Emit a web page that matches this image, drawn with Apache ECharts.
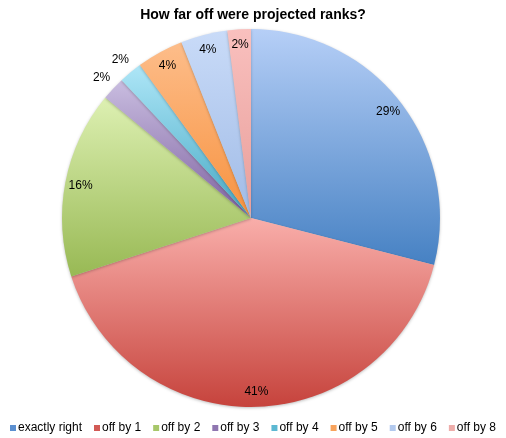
<!DOCTYPE html>
<html><head><meta charset="utf-8">
<script src="https://cdn.jsdelivr.net/npm/echarts@6/dist/echarts.min.js"></script>
<style>html,body{margin:0;padding:0;background:#fff}#c{width:506px;height:438px}</style>
</head><body><div id="c"></div>
<script>
var categories = ['exactly right','off by 1','off by 2','off by 3','off by 4','off by 5','off by 6','off by 8'];
var values = [29, 41, 16, 2, 2, 4, 4, 2];
var outsideLabels = ['off by 3','off by 4'];
var topColors = ['#b6cff7','#f9aeaa','#ddf0b2','#c9bde0','#aee6f7','#fdbd8a','#c9dbf8','#f9c0be'];
var bottomColors = ['#4681c3','#c6433c','#98b954','#7e62a0','#45a8c4','#f7923f','#a0bbe6','#e89e9a'];
var legendColors = ['#5b8fd0','#d25a55','#a7c76a','#8f76b0','#5cb8d2','#f8a35c','#b2c9ee','#eeadaa'];

var chart = echarts.init(document.getElementById('c'));
var font = '"Liberation Sans", Arial, sans-serif';
var mainData = categories.map(function(n,i){
  return {name:n, value:values[i], itemStyle:{color:new echarts.graphic.LinearGradient(0,0,0,1,[{offset:0,color:topColors[i]},{offset:1,color:bottomColors[i]}])}};
});
function fmt(p){return Math.round(p.percent)+'%';}
var inData = categories.map(function(n,i){
  return {name:n, value:values[i], label:{show: outsideLabels.indexOf(n)<0}};
});
var outData = categories.map(function(n,i){
  return {name:n, value:values[i], label:{show: outsideLabels.indexOf(n)>=0}};
});
var overlayBase = {
  type:'pie', center:[251,218], startAngle:90, clockwise:true, silent:true,
  itemStyle:{color:'rgba(0,0,0,0)'}, labelLine:{show:false},
  emphasis:{disabled:true}, avoidLabelOverlap:false, tooltip:{show:false}
};
chart.setOption({
  animation:false,
  title:{text:'How far off were projected ranks?', left:'center', top:3,
    textStyle:{fontFamily:font, fontSize:14, fontWeight:'bold', color:'#000'}},
  legend:{bottom:4, left:'center', padding:0, itemWidth:6, itemHeight:6, itemGap:12, icon:'rect',
    data:categories.map(function(n,i){return {name:n, itemStyle:{color:legendColors[i]}};}),
    textStyle:{fontFamily:font, fontSize:12, color:'#000', padding:[0,0,0,-3]}},
  series:[
    {type:'pie', name:'main', center:[251,218], radius:189, startAngle:90, clockwise:true,
     data:mainData, label:{show:false}, labelLine:{show:false}, emphasis:{disabled:true},
     itemStyle:{shadowBlur:3, shadowColor:'rgba(0,0,0,0.25)', shadowOffsetY:1}},
    Object.assign({}, overlayBase, {radius:[152,189], data:inData,
      label:{position:'inside', formatter:fmt, fontFamily:font, fontSize:12, color:'#000'}}),
    Object.assign({}, overlayBase, {radius:[191,213], data:outData,
      label:{position:'inside', formatter:fmt, fontFamily:font, fontSize:12, color:'#000'}})
  ]
});
</script></body></html>
